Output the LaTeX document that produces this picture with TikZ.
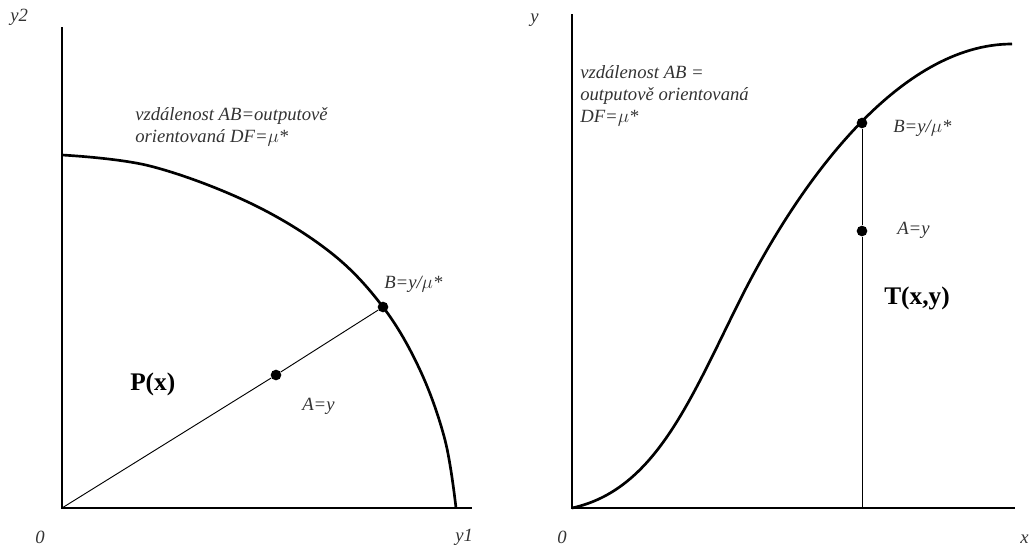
\documentclass[tikz,border=0pt]{standalone}
\usepackage{fontspec}
\setmainfont{Liberation Serif}
\begin{document}
\begin{tikzpicture}[x=0.75pt,y=-0.75pt,
  axis/.style={line width=0.9pt},
  curve/.style={line width=2pt},
  thin/.style={line width=0.7pt},
  dot/.style={circle,fill=black,inner sep=0pt,minimum size=8pt},
  lab/.style={font=\itshape\fontsize{14}{16.5}\selectfont,anchor=west,inner sep=0pt,text=black!80},
  big/.style={font=\bfseries\fontsize{19}{22}\selectfont,anchor=west,inner sep=0pt}]
\useasboundingbox (0,0) rectangle (1030,546);
% left panel
\coordinate (O1) at (62,508);
\coordinate (Y2) at (62,27);
\coordinate (Y1) at (472,508);
\draw[axis] (Y2) -- (O1) -- (Y1);
\draw[curve] plot[smooth,tension=0.6] coordinates {(62,155) (150,166) (250,203) (330,252) (383,307) (420,370) (445,440) (456,508)};
\node[dot] (B1) at (383,307) {};
\node[dot] (A1) at (276,375) {};
\draw[thin] (O1) -- (A1) -- (B1);
\node[lab] (ly2) at (10,17) {y2};
\node[lab] (l01) at (35,537) {0};
\node[lab] (ly1) at (455,537) {y1};
\node[lab,align=left,anchor=north west] (t1) at (135,107) {vzdálenost AB=outputově\\orientovaná DF=$\mu$*};
\node[lab] (lB1) at (384,284) {B=y/$\mu$*};
\node[lab] (lA1) at (302,406) {A=y};
\node[big] (P) at (130,384) {P(x)};
% right panel
\coordinate (O2) at (572,508);
\coordinate (Yt) at (572,14);
\coordinate (X) at (1015,508);
\draw[axis] (Yt) -- (O2) -- (X);
\draw[curve] (O2) .. controls (655,490) and (690,400) .. (740,300) .. controls (800,180) and (900,44) .. (1012,44);
\node[dot] (B2) at (862,123) {};
\node[dot] (A2) at (862,231) {};
\coordinate (F2) at (862,508);
\draw[thin] (B2) -- (A2) -- (F2);
\node[lab] (ly) at (530,20) {y};
\node[lab] (l02) at (557,537) {0};
\node[lab] (lx) at (1020,539) {x};
\node[lab,align=left,anchor=north west] (t2) at (580,65) {vzdálenost AB =\\outputově orientovaná\\DF=$\mu$*};
\node[lab] (lB2) at (893,128) {B=y/$\mu$*};
\node[lab] (lA2) at (897,230) {A=y};
\node[big] (T) at (884,298) {T(x,y)};
\end{tikzpicture}
\end{document}
